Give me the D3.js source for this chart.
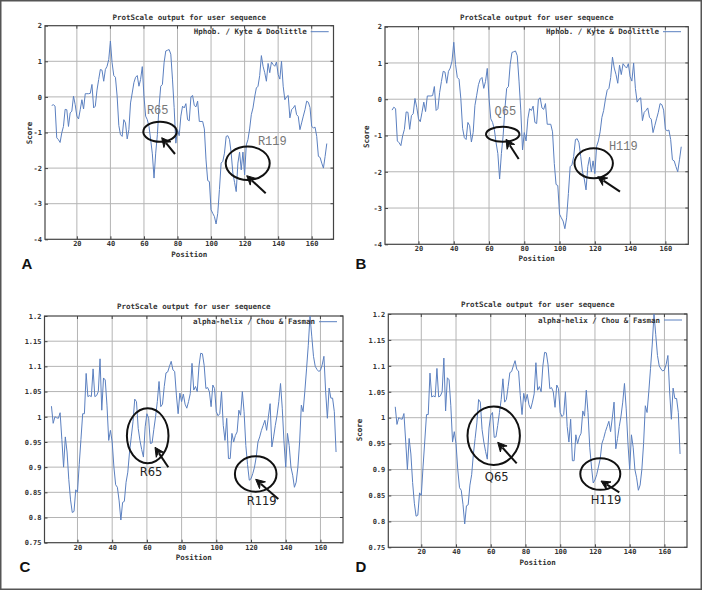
<!DOCTYPE html>
<html><head><meta charset="utf-8">
<script src="https://cdn.jsdelivr.net/npm/d3@7"></script>
<style>
body{margin:0;background:#fff}
svg{display:block}
.tick text{font-family:"DejaVu Sans Mono",monospace;font-size:7px;fill:#333;font-weight:bold}
</style></head>
<body><svg id="c" width="702" height="591"></svg>
<script>
const positions = [5,6,7,8,9,10,11,12,13,14,15,16,17,18,19,20,21,22,23,24,25,26,27,28,29,30,31,32,33,34,35,36,37,38,39,40,41,42,43,44,45,46,47,48,49,50,51,52,53,54,55,56,57,58,59,60,61,62,63,64,65,66,67,68,69,70,71,72,73,74,75,76,77,78,79,80,81,82,83,84,85,86,87,88,89,90,91,92,93,94,95,96,97,98,99,100,101,102,103,104,105,106,107,108,109,110,111,112,113,114,115,116,117,118,119,120,121,122,123,124,125,126,127,128,129,130,131,132,133,134,135,136,137,138,139,140,141,142,143,144,145,146,147,148,149,150,151,152,153,154,155,156,157,158,159,160,161,162,163,164,165,166,167,168,169];

const hydroA = [-0.24,-0.22,-0.26,-1.15,-1.2,-1.28,-1.01,-0.83,-0.35,-0.36,-0.83,-0.45,-0.4,0.02,-0.22,-0.54,-0.62,-0.36,-0.08,-0.34,0.09,0.09,0.09,0.1,0.35,-0.31,-0.26,0.19,0.49,0.77,0.75,0.44,0.77,0.86,1.05,1.57,0.96,0.6,0.55,0.02,-0.8,-1.06,-1.11,-0.64,-0.73,-1.18,-0.92,-0.17,0.11,0.4,0.55,0.6,0.3,0.49,0.85,0.02,-0.54,-0.64,-0.83,-1.2,-1.6,-2.28,-1.58,-1.06,-0.26,0.3,0.35,0.96,1.29,1.31,1.33,1.2,0.5,-0.3,-1.3,-0.92,-1.09,-0.54,-0.26,-0.31,-0.19,-0.64,-0.67,0.0,0.04,-0.24,-0.28,-0.12,-0.69,-0.69,-0.69,-0.9,-1.77,-2.35,-2.38,-3.17,-3.27,-3.36,-3.57,-3.27,-2.6,-1.86,-1.81,-1.58,-1.11,-1.09,-1.2,-1.58,-2.14,-2.4,-2.66,-1.86,-1.55,-2.05,-1.55,-2.19,-1.35,-1.2,-0.9,-0.5,-0.31,0.0,0.25,0.3,0.6,1.16,0.86,0.68,0.44,0.94,0.68,0.98,0.91,0.86,0.98,0.63,0.5,1.0,0.3,-0.08,0.0,0.04,-0.59,-0.36,-0.31,-0.24,-0.5,-0.55,-0.92,-0.73,-0.54,-0.36,-0.12,-0.15,-0.3,-0.83,-0.87,-0.85,-1.11,-1.67,-1.7,-1.86,-2.0,-1.67,-1.31];

const hydroB = [-0.3,-0.22,-0.26,-1.15,-1.2,-1.28,-1.01,-0.83,-0.35,-0.36,-0.83,-0.45,-0.4,0.02,-0.22,-0.54,-0.62,-0.36,-0.08,-0.34,0.09,0.09,0.09,0.1,0.35,-0.31,-0.26,0.19,0.49,0.77,0.75,0.44,0.77,0.86,1.05,1.57,0.96,0.6,0.55,0.02,-0.8,-1.06,-1.11,-0.64,-0.73,-1.18,-0.92,-0.17,0.11,0.4,0.55,0.6,0.3,0.49,0.85,0.02,-0.54,-0.64,-0.83,-1.2,-1.5,-2.2,-1.5,-1.0,-0.26,0.3,0.35,0.96,1.29,1.31,1.33,1.2,0.5,-0.3,-1.4,-0.92,-1.15,-0.54,-0.26,-0.31,-0.19,-0.64,-0.67,0.0,0.04,-0.24,-0.28,-0.12,-0.69,-0.69,-0.69,-0.9,-1.77,-2.35,-2.38,-3.17,-3.27,-3.36,-3.57,-3.27,-2.6,-1.86,-1.81,-1.58,-1.11,-1.09,-1.2,-1.58,-2.0,-2.2,-2.5,-1.86,-1.6,-2.0,-1.7,-2.05,-1.3,-1.15,-0.9,-0.5,-0.31,0.0,0.25,0.3,0.6,1.16,0.86,0.68,0.44,0.94,0.68,0.98,0.91,0.86,0.98,0.63,0.5,1.0,0.3,-0.08,0.0,0.04,-0.59,-0.36,-0.31,-0.24,-0.5,-0.55,-0.92,-0.73,-0.54,-0.36,-0.12,-0.15,-0.3,-0.83,-0.87,-0.85,-1.11,-1.67,-1.7,-1.86,-2.0,-1.67,-1.31];

const helixC = [1.021,0.987,1.0,0.998,0.997,1.008,0.955,0.9,0.96,0.93,0.875,0.835,0.81,0.812,0.855,0.85,0.905,0.955,1.006,1.006,1.086,1.04,1.042,1.04,1.095,1.04,1.042,1.05,1.115,1.013,1.077,1.073,1.023,0.953,0.973,0.95,0.9,0.865,0.86,0.833,0.795,0.83,0.832,0.87,0.89,0.93,0.96,0.99,1.035,1.03,0.977,0.953,0.935,0.92,0.98,1.006,0.997,0.947,0.948,0.975,1.0,1.03,1.07,1.02,1.025,1.06,1.087,1.089,1.1,1.11,1.093,1.09,1.043,1.006,1.047,1.03,1.045,1.025,1.017,1.03,1.046,1.106,1.053,1.06,1.05,1.1,1.126,1.125,1.102,1.056,1.058,1.05,1.02,1.063,1.056,1.01,1.002,1.006,1.05,0.983,0.953,0.997,0.917,0.917,0.967,0.95,0.963,0.97,1.013,1.003,1.05,1.01,0.943,0.905,0.874,0.877,0.887,0.9,0.92,0.95,0.96,0.973,0.983,0.993,0.973,1.0,1.026,0.94,0.96,0.983,1.003,1.03,1.066,1.017,0.95,0.9,0.967,0.943,0.9,0.884,0.86,0.87,0.9,0.95,1.023,1.01,1.05,1.095,1.142,1.2,1.16,1.12,1.1,1.094,1.09,1.092,1.103,1.12,1.05,0.997,1.057,1.037,1.037,1.01,0.93];

const helixD = [1.021,0.987,1.0,0.998,0.997,1.008,0.955,0.9,0.96,0.93,0.875,0.835,0.81,0.812,0.855,0.85,0.905,0.955,1.006,1.006,1.086,1.04,1.042,1.04,1.095,1.04,1.042,1.05,1.115,1.013,1.077,1.073,1.023,0.953,0.973,0.95,0.9,0.865,0.86,0.833,0.795,0.83,0.832,0.87,0.89,0.93,0.96,0.99,1.035,1.03,0.977,0.953,0.935,0.92,0.98,1.005,1.01,0.962,0.963,0.985,1.01,1.035,1.075,1.03,1.035,1.06,1.087,1.089,1.1,1.11,1.093,1.09,1.043,1.006,1.047,1.03,1.045,1.025,1.017,1.03,1.046,1.106,1.053,1.06,1.05,1.1,1.126,1.125,1.102,1.056,1.058,1.05,1.02,1.063,1.056,1.01,1.002,1.006,1.05,0.983,0.953,0.997,0.917,0.917,0.967,0.95,0.963,0.97,1.013,1.003,1.053,1.01,0.943,0.905,0.874,0.88,0.89,0.905,0.92,0.95,0.96,0.973,0.983,0.993,0.973,1.0,1.03,0.94,0.96,0.983,1.003,1.03,1.066,1.017,0.95,0.9,0.967,0.943,0.9,0.884,0.86,0.87,0.9,0.95,1.023,1.01,1.05,1.095,1.142,1.2,1.16,1.12,1.1,1.094,1.09,1.092,1.103,1.12,1.05,0.997,1.057,1.037,1.037,1.01,0.93];

const xTicks = [20,40,60,80,100,120,140,160];
const yTicksHydro = [2,1,0,-1,-2,-3,-4];
const yTicksHelix = [1.2,1.15,1.1,1.05,1,0.95,0.9,0.85,0.8,0.75];
const titleText = "ProtScale output for user sequence";
const legendHydro = "Hphob. / Kyte & Doolittle";
const legendHelix = "alpha-helix / Chou & Fasman";
const panelLetters = ["A","B","C","D"];
const markLabels = [["R65","R119"],["Q65","H119"],["R65","R119"],["Q65","H119"]];

const svg = d3.select("#c");
svg.append("rect").attr("x",0.75).attr("y",0.75).attr("width",700.5).attr("height",588.5)
  .attr("fill","#fff").attr("stroke","#555").attr("stroke-width",1.5);

const panels = [
 {vals:hydroA, yd:[-4,2], yt:yTicksHydro, leg:legendHydro, L:45,R:333.5,T:25.7,B:239.3, titleY:17, posY:254, score:[29,133], letter:[27,263],
  ann:{style:"mono", labels:[[157.7,111],[272.3,142.3]], ell:[[160,131.7,16.7,10],[247.7,163.3,22,16.7]], arr:[[175,154,161.7,137.7],[265.7,193.3,246.7,175.7]]}, legY:31.7, legEnd:306.7},
 {vals:hydroB, yd:[-4,2], yt:yTicksHydro, leg:legendHydro, L:385,R:688.3,T:26.7,B:244.3, titleY:17.3, posY:258.3, score:[366.7,136.7], letter:[361,263],
  ann:{style:"mono", labels:[[505.3,112.3],[623.3,146.7]], ell:[[502.7,134.3,16.7,7.5],[593.7,163.3,19.2,15]], arr:[[518.7,159,506,139.3],[620,191.7,597.7,176.7]]}, legY:31.7, legEnd:659},
 {vals:helixC, yd:[0.75,1.2], yt:yTicksHelix, leg:legendHelix, L:44.5,R:343,T:316,B:542.7, titleY:306.7, posY:557.3, score:null, letter:[25,566.7],
  ann:{style:"sans", labels:[[151,472.3],[261.7,500.7]], ell:[[147.7,435.7,20.8,27.5],[255.7,474,20.8,17.8]], arr:[[168.3,467.3,155,447.3],[278.3,499,255.7,479.3]]}, legY:321.7, legEnd:315},
 {vals:helixD, yd:[0.75,1.2], yt:yTicksHelix, leg:legendHelix, L:388.3,R:687,T:314,B:547.3, titleY:304.7, posY:562.7, score:[359.3,430], letter:[361,566],
  ann:{style:"sans", labels:[[496.7,476.7],[606,500]], ell:[[493.7,435.7,26.2,29.2],[600.3,474,20,15.8]], arr:[[516.7,463.3,497.7,442.3],[619.3,492.3,601,481]]}, legY:320, legEnd:660}
];

const lineColor = "#5b80c0";
const smallFont = "'DejaVu Sans Mono', monospace";

function smallText(g,x,y,anchor,txt){
  return g.append("text").attr("x",x).attr("y",y).attr("text-anchor",anchor).attr("dominant-baseline","central")
    .attr("font-family",smallFont).attr("font-size",7.5).attr("fill","#333").attr("font-weight","bold").text(txt);
}

panels.forEach((p,i)=>{
  const g = svg.append("g");
  const x = d3.scaleLinear().domain([1,173]).range([p.L,p.R]);
  const y = d3.scaleLinear().domain(p.yd).range([p.B,p.T]);
  // grid
  g.append("g").selectAll("line").data(xTicks).join("line")
    .attr("x1",d=>x(d)).attr("x2",d=>x(d)).attr("y1",p.T).attr("y2",p.B)
    .attr("stroke","#b4b4b4").attr("stroke-width",1);
  g.append("g").selectAll("line").data(p.yt.filter(v=>v!==p.yd[0]&&v!==p.yd[1])).join("line")
    .attr("x1",p.L).attr("x2",p.R).attr("y1",d=>y(d)).attr("y2",d=>y(d))
    .attr("stroke","#b4b4b4").attr("stroke-width",1);
  // axes
  const xa = g.append("g").attr("transform",`translate(0,${p.B})`)
    .call(d3.axisBottom(x).tickValues(xTicks).tickSize(-3).tickPadding(2).tickFormat(d3.format("d")));
  const ya = g.append("g").attr("transform",`translate(${p.L},0)`)
    .call(d3.axisLeft(y).tickValues(p.yt).tickSize(-3).tickPadding(3).tickFormat(d=>String(d)));
  [xa,ya].forEach(a=>{a.select(".domain").remove(); a.selectAll(".tick line").attr("stroke","#444");});
  // mirrored ticks
  g.append("g").selectAll("line").data(xTicks).join("line")
    .attr("x1",d=>x(d)).attr("x2",d=>x(d)).attr("y1",p.T).attr("y2",p.T+3).attr("stroke","#444");
  g.append("g").selectAll("line").data(p.yt).join("line")
    .attr("x1",p.R-3).attr("x2",p.R).attr("y1",d=>y(d)).attr("y2",d=>y(d)).attr("stroke","#444");
  g.append("rect").attr("x",p.L).attr("y",p.T).attr("width",p.R-p.L).attr("height",p.B-p.T)
    .attr("fill","none").attr("stroke","#444").attr("stroke-width",1.2);
  // line
  const data = positions.map((pos,k)=>[pos,p.vals[k]]);
  g.append("path").datum(data).attr("fill","none").attr("stroke",lineColor).attr("stroke-width",1)
    .attr("d",d3.line().x(d=>x(d[0])).y(d=>y(d[1])));
  // titles
  smallText(g,(p.L+p.R)/2,p.titleY,"middle",titleText);
  smallText(g,(p.L+p.R)/2,p.posY,"middle","Position");
  if(p.score){
    g.append("text").attr("transform",`translate(${p.score[0]},${p.score[1]}) rotate(-90)`).attr("text-anchor","middle")
      .attr("dominant-baseline","central")
      .attr("font-family",smallFont).attr("font-size",7.5).attr("fill","#333").attr("font-weight","bold").text("Score");
  }
  // legend
  smallText(g,p.legEnd,p.legY,"end",p.leg);
  g.append("line").attr("x1",p.legEnd+4).attr("x2",p.legEnd+22).attr("y1",p.legY).attr("y2",p.legY)
    .attr("stroke",lineColor).attr("stroke-width",1);
  // panel letter
  g.append("text").attr("x",p.letter[0]).attr("y",p.letter[1]).attr("text-anchor","middle").attr("dominant-baseline","central")
    .attr("font-family","'Liberation Sans', Arial, sans-serif").attr("font-size",15).attr("font-weight","bold").attr("fill","#111").text(panelLetters[i]);
  // annotations
  p.ann.ell.forEach(e=>{
    g.append("ellipse").attr("cx",e[0]).attr("cy",e[1]).attr("rx",e[2]).attr("ry",e[3])
      .attr("fill","none").attr("stroke","#111").attr("stroke-width",2);
  });
  p.ann.arr.forEach(a=>{
    const [x1,y1,x2,y2]=a;
    const ang = Math.atan2(y2-y1,x2-x1);
    const hl=9, hw=4.5;
    const bx = x2-hl*Math.cos(ang), by=y2-hl*Math.sin(ang);
    g.append("line").attr("x1",x1).attr("y1",y1).attr("x2",bx+2*Math.cos(ang)).attr("y2",by+2*Math.sin(ang))
      .attr("stroke","#111").attr("stroke-width",2);
    const pts=[[x2,y2],[bx+hw*Math.sin(ang),by-hw*Math.cos(ang)],[bx+3*Math.cos(ang),by+3*Math.sin(ang)],[bx-hw*Math.sin(ang),by+hw*Math.cos(ang)]];
    g.append("path").attr("d","M"+pts.map(q=>q.join(",")).join("L")+"Z").attr("fill","#111").attr("stroke","#111").attr("stroke-width",1);
  });
  p.ann.labels.forEach((l,k)=>{
    const mono = p.ann.style==="mono";
    g.append("text").attr("x",l[0]).attr("y",l[1]).attr("text-anchor","middle").attr("dominant-baseline","central")
      .attr("font-family",mono?"'Liberation Mono', 'Courier New', monospace":"'DejaVu Sans', sans-serif")
      .attr("font-size",mono?12:11.5).attr("fill",mono?"#777":"#222").text(markLabels[i][k]);
  });
});
</script></body></html>
